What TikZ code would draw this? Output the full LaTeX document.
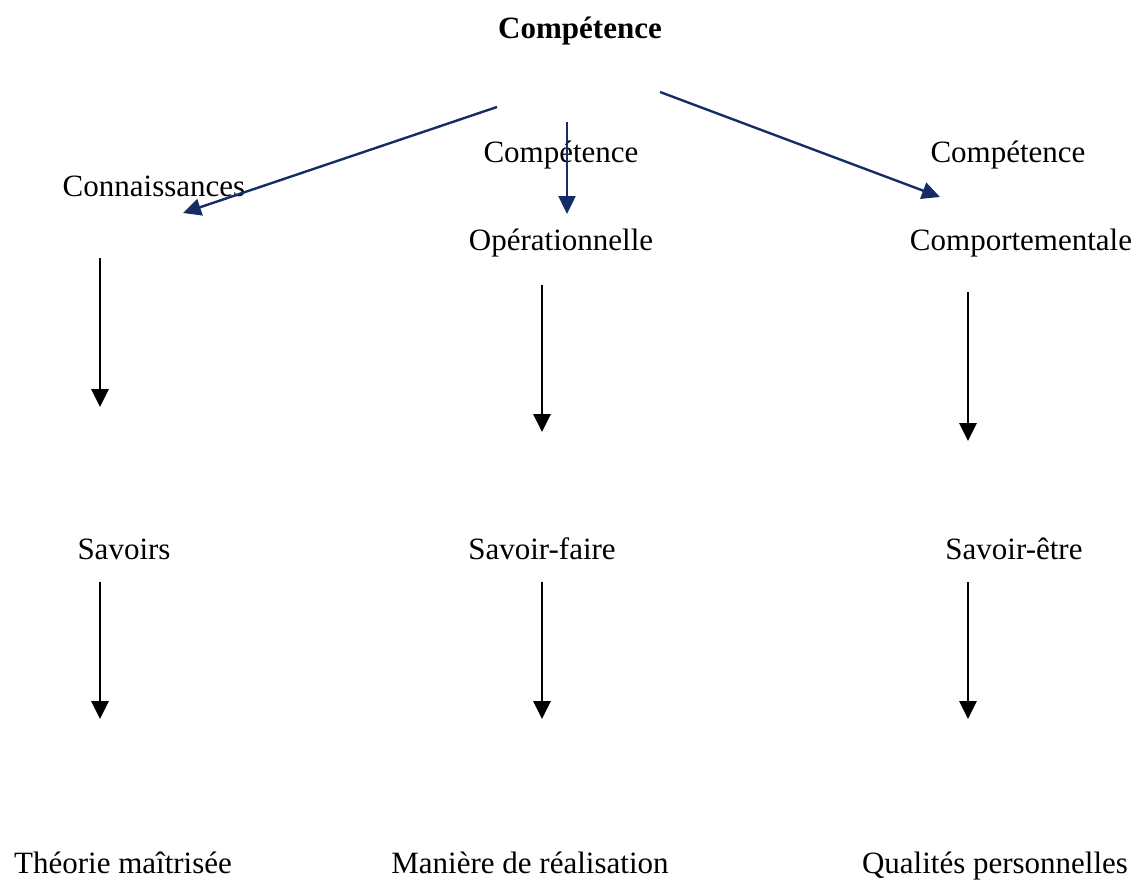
\documentclass[tikz,border=0pt]{standalone}
\usepackage{fontspec}
\setmainfont{Liberation Serif}
\usepackage{tikz}
\usetikzlibrary{arrows.meta}
\definecolor{bleufonce}{RGB}{20,45,100}

\begin{document}
\begin{tikzpicture}[x=1pt,y=-1pt,
    mot/.style={font=\fontsize{31}{36}\selectfont, inner sep=0pt, anchor=base},
    fleche/.style={line width=2.8pt, -{Triangle[width=17pt,length=18pt]}},
    flechebleue/.style={fleche, color=bleufonce, line width=2.4pt}]
    \useasboundingbox (0,0) rectangle (1136,886);
    % textes
    \node [mot, font=\bfseries\fontsize{31}{36}\selectfont] (titre) at (580,38) {Compétence};
    \node [mot] (connaissances) at (154,196) {Connaissances};
    \node [mot] (compOp) at (561,162) {Compétence};
    \node [mot] (operationnelle) at (561,250) {Opérationnelle};
    \node [mot] (compComp) at (1008,162) {Compétence};
    \node [mot] (comportementale) at (1021,250) {Comportementale};
    \node [mot] (savoirs) at (124,559) {Savoirs};
    \node [mot] (savoirfaire) at (542,559) {Savoir-faire};
    \node [mot] (savoiretre) at (1014,559) {Savoir-être};
    \node [mot] (theorie) at (123,873) {Théorie maîtrisée};
    \node [mot] (maniere) at (530,873) {Manière de réalisation};
    \node [mot] (qualites) at (995,873) {Qualités personnelles};
    % bouts des fleches
    \coordinate (hautG) at (497,107);  \coordinate (basG) at (183,213);
    \coordinate (hautM) at (567,122);  \coordinate (basM) at (567,214);
    \coordinate (hautD) at (660,92);   \coordinate (basD) at (940,197);
    \coordinate (s1) at (100,258);  \coordinate (e1) at (100,407);
    \coordinate (s2) at (542,285);  \coordinate (e2) at (542,432);
    \coordinate (s3) at (968,292);  \coordinate (e3) at (968,441);
    \coordinate (t1) at (100,582);  \coordinate (f1) at (100,719);
    \coordinate (t2) at (542,582);  \coordinate (f2) at (542,719);
    \coordinate (t3) at (968,582);  \coordinate (f3) at (968,719);
    % fleches
    \draw [flechebleue] (hautG) -- (basG);
    \draw [flechebleue] (hautM) -- (basM);
    \draw [flechebleue] (hautD) -- (basD);
    \foreach \i in {1,2,3} {
        \draw [fleche] (s\i) -- (e\i);
        \draw [fleche] (t\i) -- (f\i);
    }
\end{tikzpicture}
\end{document}
